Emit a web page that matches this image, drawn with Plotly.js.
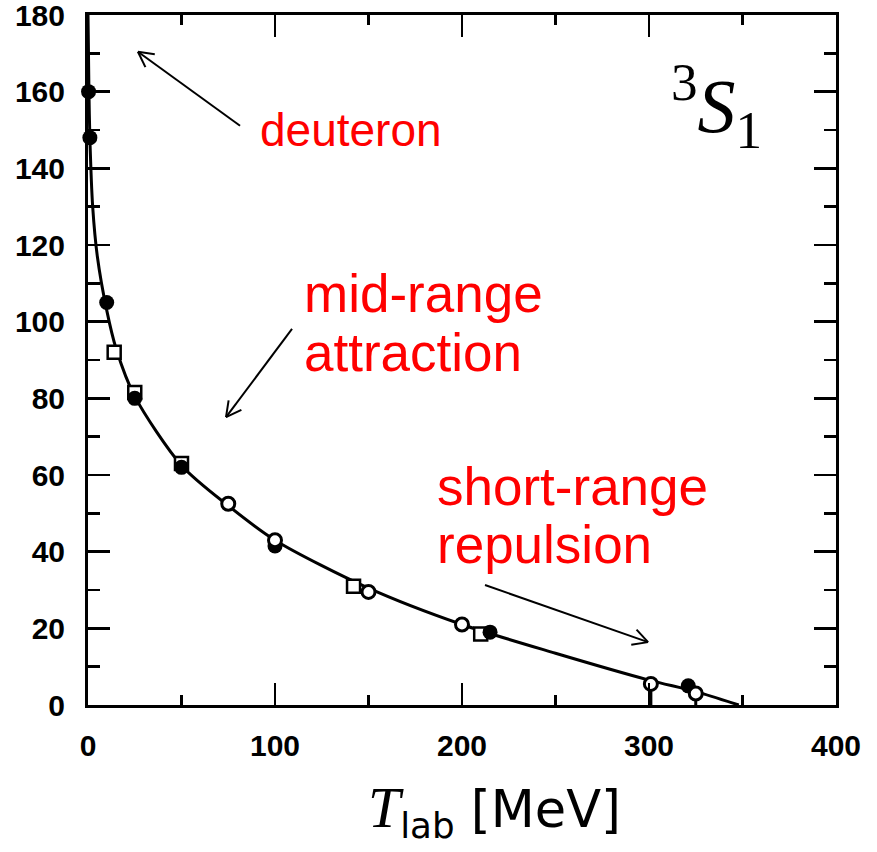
<!DOCTYPE html>
<html>
<head>
<meta charset="utf-8">
<script src="https://cdn.plot.ly/plotly-3.0.1.min.js"></script>
<style>html,body{margin:0;padding:0;background:#fff;}</style>
</head>
<body>
<div id="chart" style="width:877px;height:852px;"></div>
<script>
// Theory curve
const curveT = [0, 0.5, 1, 2.5, 5, 10, 15, 25, 50, 75, 100, 150, 200, 250, 300, 325, 348];
const curveDelta = [180, 160, 148, 130, 117, 103, 93, 80.5, 62.5, 52, 43, 30.5, 21, 13.5, 6.5, 3.5, 0];

// Filled circles
const filledT = [0.3, 1, 10, 25, 50, 100, 215, 321];
const filledDelta = [160, 148, 105, 80, 62, 41.5, 19, 5];

// Open circles
const openCircT = [75, 100, 150, 200, 301, 325];
const openCircDelta = [52.5, 43, 29.5, 21, 5.5, 3];
const openCircErrMinus = [0, 0, 0, 0, 5.5, 3];

// Open squares
const openSqT = [14, 25, 50, 142, 210];
const openSqDelta = [92, 81.5, 63, 31, 18.5];

// Axis ticks
const xTicks = [0, 100, 200, 300, 400];
const yTicks = [0, 20, 40, 60, 80, 100, 120, 140, 160, 180];

// Annotation arrows: [tailT, tailDelta, headT, headDelta]
const arrows = [
  [81.3, 151.1, 26.7, 170.4],
  [109.1, 98.1, 73.8, 75.1],
  [212.3, 31.3, 299.5, 16.4]
];

const W = 877, H = 852, ML = 88, MR = 41, MT = 15, MB = 147;
const XR = [0, 400], YR = [0, 180];
const sx = (W - ML - MR) / (XR[1] - XR[0]);
const sy = (H - MT - MB) / (YR[1] - YR[0]);

function arrowShapes(a) {
  const [tx, ty, hx, hy] = a;
  const line = {color: '#000', width: 2};
  const shapes = [{type: 'line', xref: 'x', yref: 'y', x0: tx, y0: ty, x1: hx, y1: hy, line}];
  const dx = (hx - tx) * sx, dy = (hy - ty) * sy;
  const ang = Math.atan2(dy, dx);
  const L = 17, half = 28 * Math.PI / 180;
  [ang + Math.PI - half, ang + Math.PI + half].forEach(th => {
    shapes.push({type: 'line', xref: 'x', yref: 'y', x0: hx, y0: hy,
      x1: hx + L * Math.cos(th) / sx, y1: hy + L * Math.sin(th) / sy, line});
  });
  return shapes;
}

const traces = [
  {x: curveT, y: curveDelta, mode: 'lines', line: {color: '#000', width: 3, shape: 'spline', smoothing: 0.8}, hoverinfo: 'skip', showlegend: false},
  {x: openSqT, y: openSqDelta, mode: 'markers', cliponaxis: false,
   marker: {symbol: 'square', size: 13, color: '#fff', line: {color: '#000', width: 2.5}}, showlegend: false},
  {x: filledT, y: filledDelta, mode: 'markers', cliponaxis: false,
   marker: {symbol: 'circle', size: 15, color: '#000', line: {color: '#000', width: 0}}, showlegend: false},
  {x: openCircT, y: openCircDelta, mode: 'markers', cliponaxis: false,
   error_y: {type: 'data', symmetric: false, array: [0,0,0,0,0,0], arrayminus: openCircErrMinus, color: '#000', thickness: 3, width: 0},
   marker: {symbol: 'circle', size: 13, color: '#fff', line: {color: '#000', width: 3}}, showlegend: false}
];

const redFontS = {family: 'Liberation Sans, Arial, sans-serif', size: 46, color: '#ff0000'};
const redFontL = {family: 'Liberation Sans, Arial, sans-serif', size: 53, color: '#ff0000'};
const tickFont = {family: 'Liberation Sans, Arial, sans-serif', size: 30, color: '#000', weight: 'bold'};

let shapes = [];
arrows.forEach(a => { shapes = shapes.concat(arrowShapes(a)); });

function label(x, y, text, font) {
  return {xref: 'x', yref: 'y', x: x, y: y, text: text, showarrow: false, xanchor: 'left', yanchor: 'middle', font: font};
}

const layout = {
  width: W, height: H,
  margin: {l: ML, r: MR, t: MT, b: MB},
  paper_bgcolor: '#fff', plot_bgcolor: '#fff',
  xaxis: {
    range: XR, tickmode: 'array', tickvals: xTicks, ticktext: xTicks.map(String),
    showgrid: false, zeroline: false,
    showline: true, linecolor: '#000', linewidth: 3, mirror: 'ticks',
    ticks: 'inside', ticklen: 22, tickwidth: 2.5, tickcolor: '#000',
    minor: {dtick: 50, tick0: 0, ticks: 'inside', ticklen: 10, tickwidth: 2.5, tickcolor: '#000', showgrid: false},
    tickfont: tickFont, ticklabeloverflow: 'allow',
    ticklabelstandoff: 12,
    title: {
      text: '&nbsp;&nbsp;&nbsp;&nbsp;<span style="font-family:Liberation Serif,serif;font-style:italic;font-size:58px">T</span><sub>lab</sub> [MeV]',
      font: {family: 'DejaVu Sans, sans-serif', size: 51, color: '#000'},
      standoff: 31
    }
  },
  yaxis: {
    range: YR, tickmode: 'array', tickvals: yTicks, ticktext: yTicks.map(String),
    showgrid: false, zeroline: false,
    showline: true, linecolor: '#000', linewidth: 3, mirror: 'ticks',
    ticks: 'inside', ticklen: 22, tickwidth: 2.5, tickcolor: '#000',
    minor: {dtick: 10, tick0: 0, ticks: 'inside', ticklen: 12, tickwidth: 2.5, tickcolor: '#000', showgrid: false},
    tickfont: tickFont, ticklabeloverflow: 'allow',
    ticklabelstandoff: 14
  },
  shapes: shapes,
  annotations: [
    label(90.7, 150, 'deuteron', redFontS),
    label(114.4, 107.4, 'mid-range', redFontL),
    label(114.4, 92, 'attraction', redFontL),
    label(185.6, 57, 'short-range', redFontL),
    label(185.6, 41.9, 'repulsion', redFontL),
    {xref: 'paper', yref: 'paper', x: 0.84, y: 0.868, text: '<sup>3</sup><i>S</i><sub>1</sub>', showarrow: false, xanchor: 'center', yanchor: 'middle',
     font: {family: 'Liberation Serif, serif', size: 76, color: '#000'}}
  ]
};

Plotly.newPlot('chart', traces, layout, {displayModeBar: false, staticPlot: true});
</script>
</body>
</html>
